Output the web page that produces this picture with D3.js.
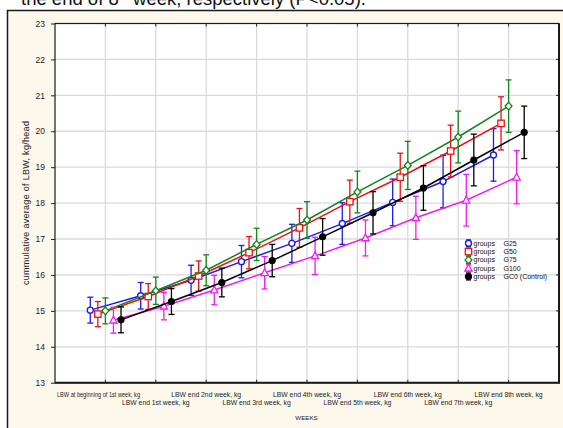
<!DOCTYPE html>
<html>
<head>
<meta charset="utf-8">
<script src="https://cdn.jsdelivr.net/npm/d3@7"></script>
<style>
  html, body { margin: 0; padding: 0; background: #ffffff; }
  svg { display: block; }
  text { font-family: Arial, "Liberation Sans", sans-serif; }
</style>
</head>
<body>
<script>
// Week categories along the x axis
const weeks = [
  "LBW at beginning of 1st week, kg",
  "LBW end 1st week, kg",
  "LBW end 2nd week, kg",
  "LBW end 3rd week, kg",
  "LBW end 4th week, kg",
  "LBW end 5th week, kg",
  "LBW end 6th week, kg",
  "LBW end 7th week, kg",
  "LBW end 8th week, kg"
];

// Group names shown in the legend
const groups = ["G25", "G50", "G75", "G100", "GC0 (Control)"];

// Mean cumulative live body weight per group, kg/head
const g25  = [15.02, 15.42, 15.85, 16.37, 16.88, 17.43, 18.02, 18.60, 19.34];
const g50  = [14.91, 15.40, 15.97, 16.62, 17.31, 18.04, 18.72, 19.45, 20.22];
const g75  = [15.00, 15.56, 16.13, 16.85, 17.53, 18.31, 19.05, 19.84, 20.70];
const g100 = [14.74, 15.13, 15.58, 16.06, 16.53, 17.03, 17.59, 18.08, 18.72];
const gc0  = [14.75, 15.26, 15.79, 16.40, 17.06, 17.73, 18.42, 19.20, 19.97];

// Half-widths of the error bars (±), kg
const g25Err  = [0.36, 0.37, 0.42, 0.45, 0.53, 0.58, 0.65, 0.73, 0.73];
const g50Err  = [0.35, 0.36, 0.42, 0.45, 0.54, 0.60, 0.67, 0.72, 0.74];
const g75Err  = [0.36, 0.38, 0.43, 0.45, 0.51, 0.58, 0.67, 0.72, 0.73];
const g100Err = [0.36, 0.38, 0.41, 0.45, 0.52, 0.50, 0.60, 0.72, 0.74];
const gc0Err  = [0.36, 0.36, 0.40, 0.45, 0.51, 0.59, 0.62, 0.72, 0.73];

// Y axis tick values
const yTicks = [13, 14, 15, 16, 17, 18, 19, 20, 21, 22, 23];

// Styling for each group
const colors  = ["#1c1cf0", "#ee1111", "#13851a", "#f01cf0", "#000000"];
const symbols = ["circle", "square", "diamond", "triangle", "dot"];
const dodge   = [-0.3, -0.15, 0, 0.16, 0.31];   // horizontal offset in category units

const series = [g25, g50, g75, g100, gc0].map((vals, k) => ({
  name: groups[k],
  values: vals,
  errors: [g25Err, g50Err, g75Err, g100Err, gc0Err][k],
  color: colors[k],
  symbol: symbols[k],
  dodge: dodge[k]
}));

const W = 563, H = 428;
const plot = { left: 55, right: 559, top: 23.5, bottom: 382.7 };

const svg = d3.select("body").append("svg")
  .attr("width", W).attr("height", H);

// Tail of the preceding document sentence, running off the page top
const sentence = svg.append("text")
  .attr("x", 21).attr("y", 5)
  .attr("font-family", "'Liberation Serif', 'Times New Roman', serif")
  .attr("font-size", 18.5).attr("fill", "#111");
sentence.append("tspan").text("the end of 8");
sentence.append("tspan").attr("font-size", 11).attr("dy", -7).text("th");
sentence.append("tspan").attr("dy", 7).text(" week, respectively (P<0.05).");

// Cream chart panel
svg.append("rect")
  .attr("x", 7.5).attr("y", 10.5)
  .attr("width", 600).attr("height", 500)
  .attr("fill", "#fdf8ec").attr("stroke", "#1a1a1a").attr("stroke-width", 1.5);

const x = d3.scaleLinear().domain([0, weeks.length + 1]).range([plot.left, plot.right]);
const y = d3.scaleLinear().domain([13, 23]).range([plot.bottom, plot.top]);

// Plot area
svg.append("rect")
  .attr("x", plot.left).attr("y", plot.top)
  .attr("width", plot.right - plot.left).attr("height", plot.bottom - plot.top)
  .attr("fill", "#ffffff");

// Gridlines
const grid = svg.append("g").attr("stroke", "#dadada").attr("stroke-width", 1.3);
grid.selectAll("line.h").data(yTicks.slice(1, -1)).join("line")
  .attr("x1", plot.left).attr("x2", plot.right)
  .attr("y1", d => y(d)).attr("y2", d => y(d));
grid.selectAll("line.v").data(weeks).join("line")
  .attr("y1", plot.top).attr("y2", plot.bottom)
  .attr("x1", (d, i) => x(i + 1)).attr("x2", (d, i) => x(i + 1));

// Left axis
const yAxis = svg.append("g")
  .attr("transform", `translate(${plot.left},0)`)
  .call(d3.axisLeft(y).tickValues(yTicks).tickSize(4).tickPadding(6).tickFormat(d3.format("d")));
yAxis.select(".domain").remove();
yAxis.selectAll("line").attr("stroke", "#222");
yAxis.selectAll("text").attr("font-size", 8.5).attr("fill", "#222")
  .attr("font-family", "Arial, 'Liberation Sans', sans-serif");

// Inward ticks on the other sides
const ticks = svg.append("g").attr("stroke", "#222").attr("stroke-width", 1);
ticks.selectAll("line.r").data(yTicks).join("line")
  .attr("x1", plot.right - 3).attr("x2", plot.right)
  .attr("y1", d => y(d)).attr("y2", d => y(d));
ticks.selectAll("line.t").data(weeks).join("line")
  .attr("x1", (d, i) => x(i + 1)).attr("x2", (d, i) => x(i + 1))
  .attr("y1", plot.top).attr("y2", plot.top + 3);
ticks.selectAll("line.b").data(weeks).join("line")
  .attr("x1", (d, i) => x(i + 1)).attr("x2", (d, i) => x(i + 1))
  .attr("y1", plot.bottom - 3).attr("y2", plot.bottom);

// Frame with heavier right/bottom edges
svg.append("rect")
  .attr("x", plot.left).attr("y", plot.top)
  .attr("width", plot.right - plot.left).attr("height", plot.bottom - plot.top)
  .attr("fill", "none").attr("stroke", "#1a1a1a").attr("stroke-width", 1.2);
svg.append("path")
  .attr("d", `M${plot.left},${plot.bottom}H${plot.right}V${plot.top}`)
  .attr("fill", "none").attr("stroke", "#1a1a1a").attr("stroke-width", 2);

// Category labels, staggered over two rows
const xl = svg.append("g").attr("font-size", 6.8).attr("fill", "#222");
xl.selectAll("text").data(weeks).join("text")
  .attr("x", (d, i) => i === 0 ? plot.left + 2 : x(i + 1))
  .attr("y", (d, i) => i % 2 === 0 ? 396.5 : 404.5)
  .attr("text-anchor", (d, i) => i === 0 ? "start" : "middle")
  .attr("textLength", (d, i) => i === 0 ? 83 : null)
  .attr("lengthAdjust", "spacingAndGlyphs")
  .text(d => d);

// Axis titles
svg.append("text")
  .attr("x", 306.5).attr("y", 420)
  .attr("text-anchor", "middle").attr("font-size", 6.2).attr("fill", "#222")
  .text("WEEKS");
svg.append("text")
  .attr("transform", `translate(29,${(plot.top + plot.bottom) / 2}) rotate(-90)`)
  .attr("text-anchor", "middle").attr("font-size", 9).attr("fill", "#222")
  .attr("textLength", 164).attr("lengthAdjust", "spacing")
  .text("cummulative average of LBW, kg/head");

// Marker drawing helper
function drawMarker(g, kind, color) {
  if (kind === "circle") {
    g.append("circle").attr("r", 3).attr("fill", "#fff")
      .attr("stroke", color).attr("stroke-width", 1.4);
  } else if (kind === "square") {
    g.append("rect").attr("x", -3.2).attr("y", -3.2).attr("width", 6.4).attr("height", 6.4)
      .attr("fill", "#fff").attr("stroke", color).attr("stroke-width", 1.3);
  } else if (kind === "diamond") {
    g.append("path").attr("d", "M0,-3.8L3.4,0L0,3.8L-3.4,0Z")
      .attr("fill", "#fff").attr("stroke", color).attr("stroke-width", 1.3);
  } else if (kind === "triangle") {
    g.append("path").attr("d", "M0,-4L3.6,2.8L-3.6,2.8Z")
      .attr("fill", "#fff").attr("stroke", color).attr("stroke-width", 1.3);
  } else {
    g.append("circle").attr("r", 3.6).attr("fill", color);
  }
}

const px = (s, i) => x(i + 1 + s.dodge);

const line = d3.line();

series.forEach(s => {
  const g = svg.append("g");
  // connecting line
  g.append("path")
    .attr("d", line(s.values.map((v, i) => [px(s, i), y(v)])))
    .attr("fill", "none").attr("stroke", s.color).attr("stroke-width", 1.5);
  // error bars
  const eb = g.append("g").attr("stroke", s.color).attr("stroke-width", 1.3);
  s.values.forEach((v, i) => {
    const cx = px(s, i), yt = y(v + s.errors[i]), yb = y(v - s.errors[i]);
    eb.append("line").attr("x1", cx).attr("x2", cx).attr("y1", yt).attr("y2", yb);
    eb.append("line").attr("x1", cx - 3).attr("x2", cx + 3).attr("y1", yt).attr("y2", yt);
    eb.append("line").attr("x1", cx - 3).attr("x2", cx + 3).attr("y1", yb).attr("y2", yb);
  });
  // markers
  s.values.forEach((v, i) => {
    const m = g.append("g").attr("transform", `translate(${px(s, i)},${y(v)})`);
    drawMarker(m, s.symbol, s.color);
  });
});

// Legend
const legend = svg.append("g").attr("font-size", 7).attr("fill", "#111");
series.forEach((s, k) => {
  const ly = 243.3 + k * 8.3;
  const row = legend.append("g");
  row.append("line").attr("x1", 468.5).attr("x2", 468.5).attr("y1", ly - 3.5).attr("y2", ly + 3.5)
    .attr("stroke", s.color).attr("stroke-width", 1.2);
  row.append("line").attr("x1", 466).attr("x2", 471).attr("y1", ly - 3.5).attr("y2", ly - 3.5)
    .attr("stroke", s.color).attr("stroke-width", 1.2);
  row.append("line").attr("x1", 466).attr("x2", 471).attr("y1", ly + 3.5).attr("y2", ly + 3.5)
    .attr("stroke", s.color).attr("stroke-width", 1.2);
  const m = row.append("g").attr("transform", `translate(468.5,${ly})`);
  drawMarker(m, s.symbol, s.color);
  row.append("text").attr("x", 473.5).attr("y", ly + 2.5).text("groups");
  row.append("text").attr("x", 503.5).attr("y", ly + 2.5).text(s.name);
});
</script>
</body>
</html>
